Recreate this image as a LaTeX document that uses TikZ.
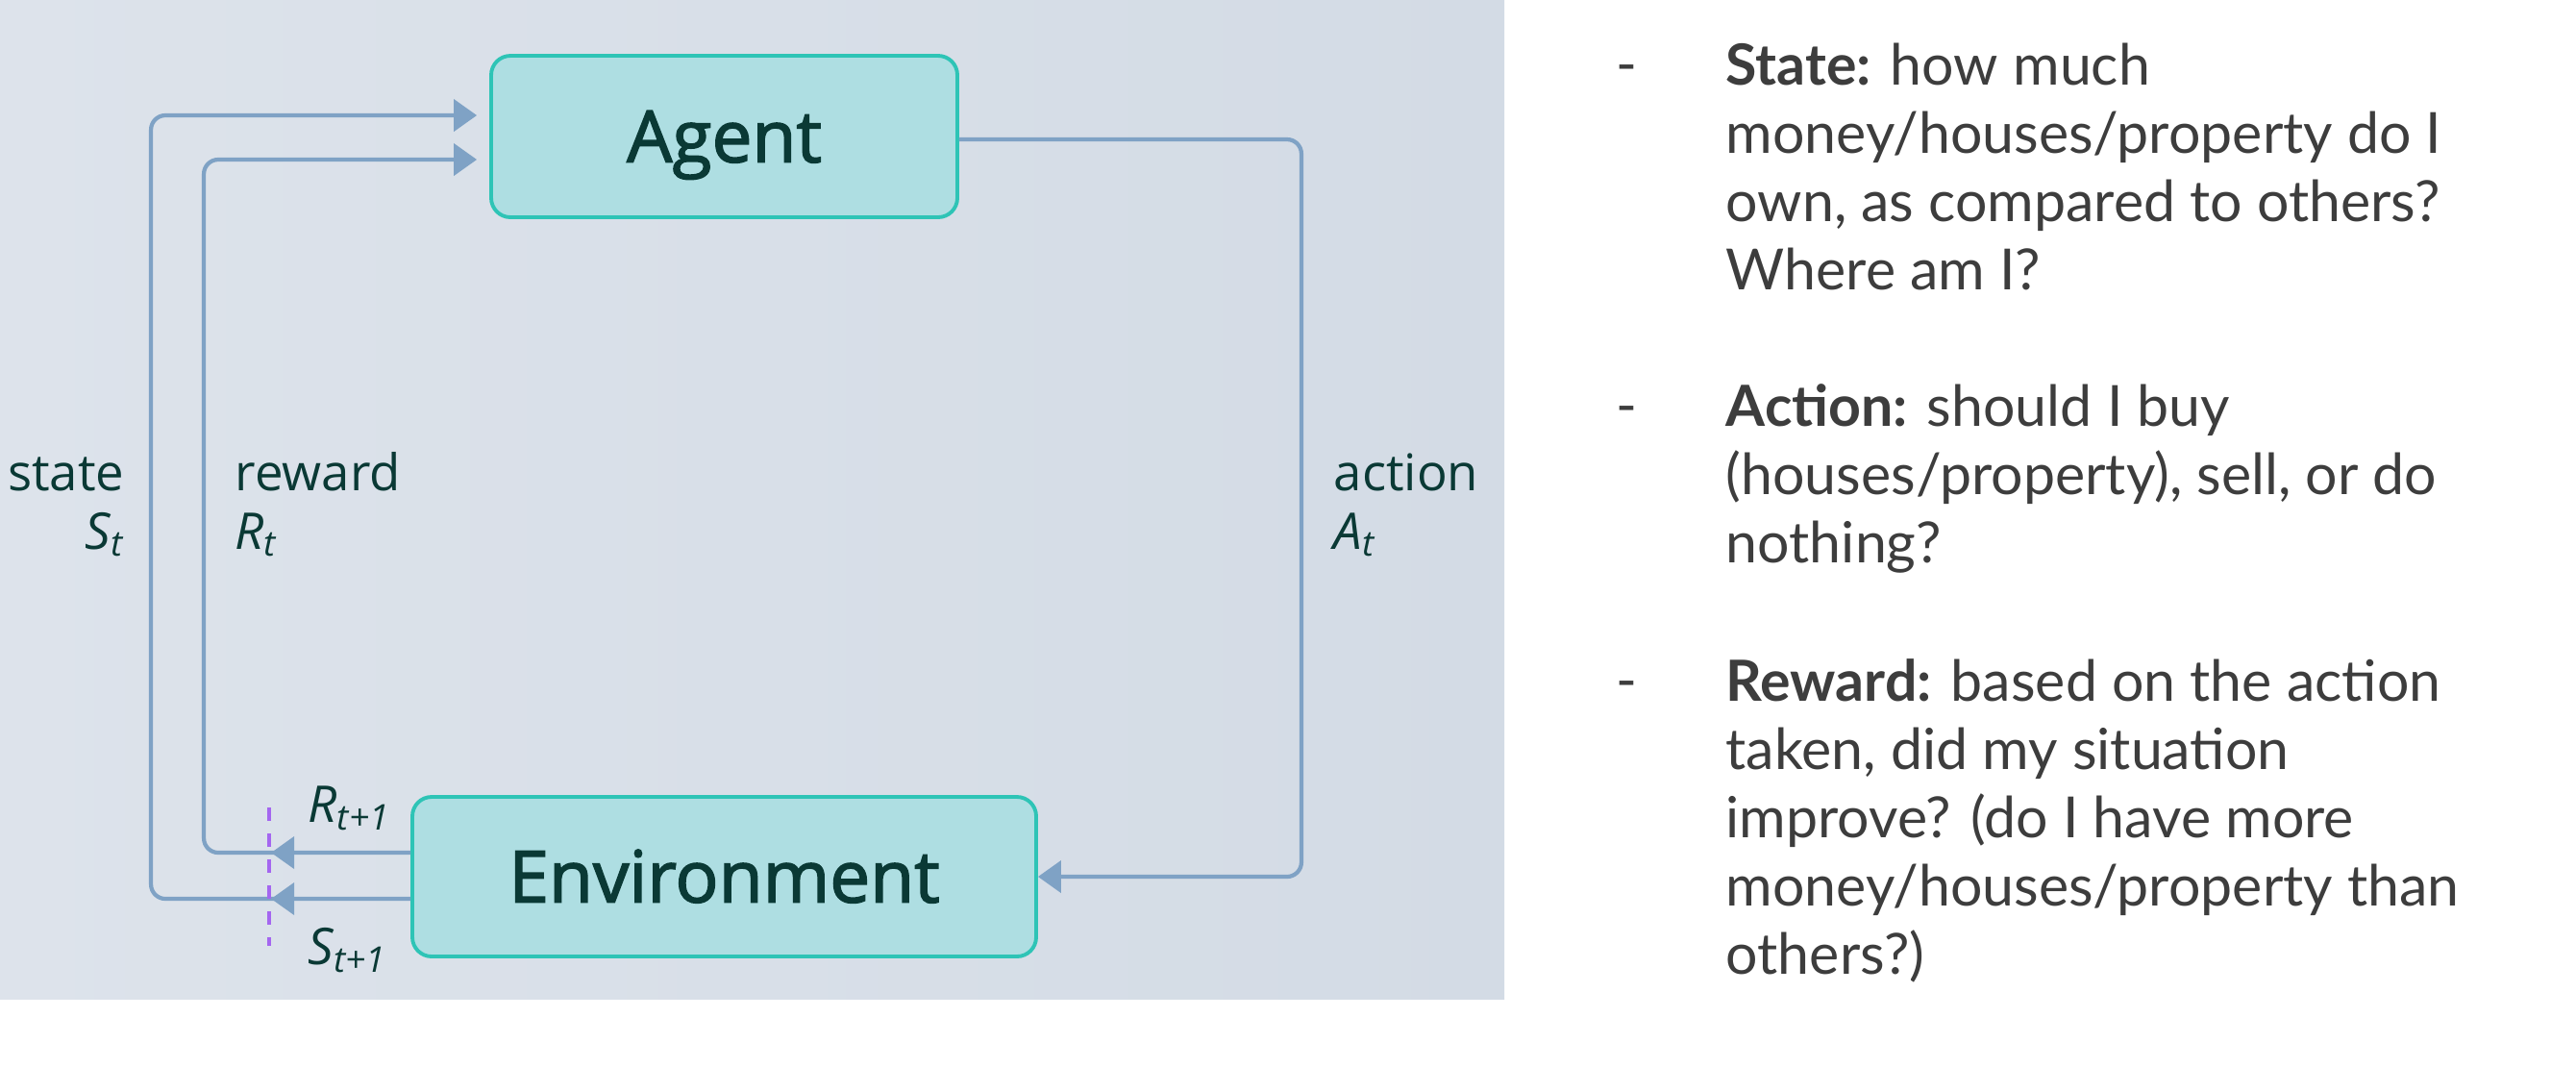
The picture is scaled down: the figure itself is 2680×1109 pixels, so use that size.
\documentclass[tikz,border=0pt]{standalone}
\usepackage{fontspec}
\setmainfont{Lato}
\newfontfamily\diagfont{Open Sans}
\newfontfamily\diagboxfont[FakeBold=2]{Open Sans}
\usetikzlibrary{arrows.meta,calc}
\definecolor{bgL}{HTML}{DDE3EB}
\definecolor{bgR}{HTML}{D3DBE5}
\definecolor{boxfill}{HTML}{AEDEE2}
\definecolor{boxline}{HTML}{2EC4B6}
\definecolor{boxtext}{HTML}{0A3935}
\definecolor{conncol}{HTML}{7FA2C5}
\definecolor{dashcol}{HTML}{A466F0}
\definecolor{rtextcol}{HTML}{3D3D3D}
\begin{document}
\begin{tikzpicture}[x=0.1mm,y=-0.1mm,
  box/.style={draw=boxline, fill=boxfill, line width=1.1pt, rounded corners=2mm,
    text=boxtext, font={\diagboxfont\fontsize{21.3pt}{26pt}\selectfont},
    inner sep=0pt, text height=15.2pt, text depth=0pt},
  conn/.style={draw=conncol, line width=1.2pt, rounded corners=1.5mm},
  tip/.style={-{Triangle[length=2.4mm,width=3.3mm]}},
  lbl/.style={text=boxtext, font={\diagfont\fontsize{15pt}{18pt}\selectfont}, inner sep=0pt},
  rtext/.style={text=rtextcol, font={\fontsize{16.8pt}{20.2pt}\selectfont}, inner sep=0pt, align=left}]
\useasboundingbox (0,0) rectangle (2680,1109);
\fill[white] (0,0) rectangle (2680,1109);
\shade[left color=bgL, right color=bgR] (0,0) rectangle (1565,1039);

% boxes
\node[box, minimum width=48.5mm, minimum height=16.8mm] (agent) at (753.5,142) {Agent};
\node[box, minimum width=64.9mm, minimum height=16.6mm] (env) at (753.5,912) {Environment};

% connectors
\draw[conn, tip, shorten >=1.3mm] ($(env.west)+(0,23)$) -| ($(agent.west)+(-352,-22)$) -- ($(agent.west)+(0,-22)$);
\draw[conn, tip, shorten >=1.3mm] ($(env.west)+(0,-25)$) -| ($(agent.west)+(-297,24)$) -- ($(agent.west)+(0,24)$);
\draw[conn, tip] ($(env.west)+(0,-25)$) -- ($(env.west)+(-145,-25)$);
\draw[conn, tip] ($(env.west)+(0,23)$) -- ($(env.west)+(-145,23)$);
\draw[conn, tip] ($(agent.east)+(0,3)$) -- ($(agent.east)+(356,3)$) |- (env.east);

% dashed marker
\draw[dashcol, line width=0.9pt, dash pattern=on 1.4mm off 1.3mm] ($(env.west)+(-147,-72)$) -- ($(env.west)+(-147,72)$);

% labels
\node[lbl, anchor=base east] (stateA) at (130,510) {state};
\node[lbl, anchor=base east] (stateB) at (130,571) {\itshape S\textsubscript{t}};
\node[lbl, anchor=base west] (rewardA) at (244,510) {reward};
\node[lbl, anchor=base west] (rewardB) at (244,571) {\itshape R\textsubscript{t}};
\node[lbl, anchor=base west] (actionA) at (1387,510) {action};
\node[lbl, anchor=base west] (actionB) at (1387,571) {\itshape A\textsubscript{t}};
\node[lbl, anchor=base west] (rnext) at (320,855) {\itshape R\textsubscript{t+1}};
\node[lbl, anchor=base west] (snext) at (320,1003) {\itshape S\textsubscript{t+1}};

% right text
\node[rtext, anchor=base] (d1) at (1692,87) {-};
\node[rtext, anchor=base] (d2) at (1692,442) {-};
\node[rtext, anchor=base] (d3) at (1692,728) {-};
\node[rtext, anchor=north west] (stateT) at (1795,44) {\textbf{State:} how much\\money/houses/property do I\\own, as compared to others?\\Where am I?};
\node[rtext, anchor=north west] (actionT) at (1795,399) {\textbf{Action:} should I buy\\(houses/property), sell, or do\\nothing?};
\node[rtext, anchor=north west] (rewardT) at (1795,685) {\textbf{Reward:} based on the action\\taken, did my situation\\improve? (do I have more\\money/houses/property than\\others?)};
\end{tikzpicture}
\end{document}
